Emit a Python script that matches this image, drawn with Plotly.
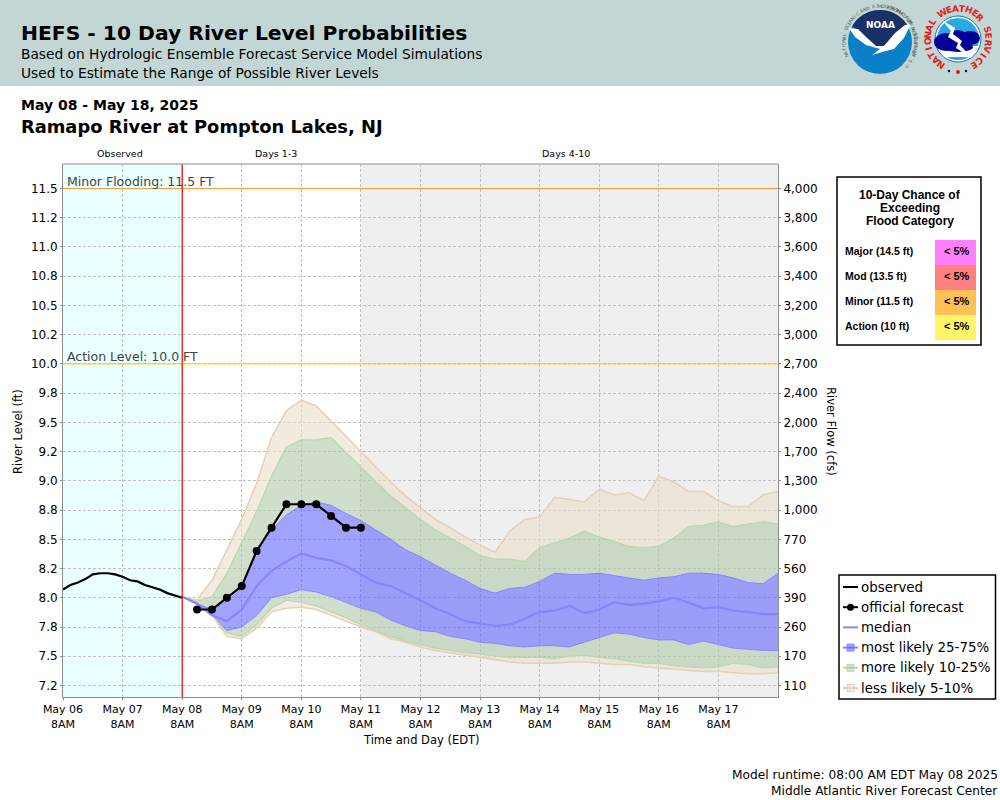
import math
import pandas as pd
import plotly.graph_objects as go

# River levels in ft
observed = [8.07, 8.11, 8.13, 8.16, 8.20, 8.21, 8.21, 8.20, 8.18, 8.15, 8.14, 8.11, 8.09, 8.07, 8.04, 8.02, 8.00]
official = [7.9, 7.9, 8.0, 8.1, 8.4, 8.6, 8.8, 8.8, 8.8, 8.7, 8.6, 8.6]

p95 = [8.01, 7.98, 8.15, 8.41, 8.67, 8.98, 9.37, 9.60, 9.69, 9.64, 9.51, 9.38, 9.25, 9.12, 8.99, 8.87, 8.77, 8.67, 8.60, 8.52,
       8.45, 8.39, 8.57, 8.67, 8.69, 8.86, 8.84, 8.82, 8.93, 8.88, 8.90, 8.83, 9.04, 8.99, 8.91, 8.91, 8.83, 8.78, 8.78, 8.88, 8.91]
p90 = [8.01, 7.97, 8.01, 8.21, 8.47, 8.74, 9.04, 9.29, 9.35, 9.35, 9.37, 9.24, 9.12, 8.99, 8.87, 8.77, 8.67, 8.58, 8.51, 8.44,
       8.36, 8.33, 8.33, 8.31, 8.43, 8.47, 8.51, 8.57, 8.52, 8.48, 8.44, 8.43, 8.44, 8.51, 8.61, 8.62, 8.65, 8.61, 8.63, 8.65, 8.63]
p75 = [8.01, 7.95, 7.90, 7.97, 8.08, 8.41, 8.58, 8.71, 8.79, 8.82, 8.79, 8.72, 8.66, 8.58, 8.50, 8.41, 8.35, 8.28, 8.21, 8.15,
       8.08, 8.04, 8.08, 8.09, 8.14, 8.21, 8.20, 8.20, 8.21, 8.19, 8.17, 8.15, 8.17, 8.18, 8.21, 8.21, 8.20, 8.17, 8.13, 8.12, 8.21]
median = [8.01, 7.95, 7.85, 7.80, 7.90, 8.10, 8.23, 8.31, 8.38, 8.34, 8.32, 8.27, 8.20, 8.13, 8.10, 8.04, 7.98, 7.91, 7.86, 7.80,
          7.78, 7.76, 7.77, 7.82, 7.88, 7.89, 7.93, 7.87, 7.90, 7.96, 7.94, 7.95, 7.97, 8.00, 7.96, 7.91, 7.92, 7.89, 7.88, 7.86, 7.86]
p25 = [8.01, 7.95, 7.85, 7.72, 7.75, 7.85, 8.00, 8.03, 8.07, 8.05, 8.01, 7.96, 7.91, 7.88, 7.81, 7.76, 7.72, 7.71, 7.67, 7.65,
       7.62, 7.61, 7.59, 7.58, 7.59, 7.59, 7.58, 7.62, 7.66, 7.70, 7.69, 7.66, 7.64, 7.64, 7.60, 7.63, 7.60, 7.57, 7.56, 7.55, 7.55]
p10 = [8.01, 7.95, 7.85, 7.70, 7.67, 7.77, 7.91, 7.98, 7.96, 7.93, 7.88, 7.83, 7.77, 7.72, 7.67, 7.63, 7.60, 7.57, 7.55, 7.53,
       7.52, 7.50, 7.49, 7.49, 7.49, 7.48, 7.50, 7.51, 7.49, 7.48, 7.46, 7.44, 7.44, 7.42, 7.41, 7.40, 7.41, 7.44, 7.43, 7.40, 7.41]
p5 = [8.01, 7.95, 7.85, 7.67, 7.65, 7.74, 7.88, 7.91, 7.92, 7.90, 7.85, 7.80, 7.75, 7.71, 7.65, 7.62, 7.58, 7.55, 7.53, 7.51,
      7.49, 7.47, 7.45, 7.44, 7.44, 7.44, 7.45, 7.45, 7.44, 7.43, 7.43, 7.41, 7.40, 7.39, 7.38, 7.37, 7.37, 7.36, 7.35, 7.35, 7.36]

stage_ticks = [7.25, 7.5, 7.75, 8.0, 8.25, 8.5, 8.75, 9.0, 9.25, 9.5, 9.75, 10.0, 10.25, 10.5, 10.75, 11.0, 11.25, 11.5]
stage_labels = ["7.2", "7.5", "7.8", "8.0", "8.2", "8.5", "8.8", "9.0", "9.2", "9.5", "9.8", "10.0", "10.2", "10.5", "10.8", "11.0", "11.2", "11.5"]
flow_labels = ["110", "170", "260", "390", "560", "770", "1,000", "1,300", "1,700", "2,000", "2,400", "2,700",
               "3,000", "3,200", "3,400", "3,600", "3,800", "4,000"]
day_labels = ["May 06", "May 07", "May 08", "May 09", "May 10", "May 11", "May 12", "May 13", "May 14", "May 15", "May 16", "May 17"]

flood_names = ["Major (14.5 ft)", "Mod (13.5 ft)", "Minor (11.5 ft)", "Action (10 ft)"]
flood_chance = ["< 5%", "< 5%", "< 5%", "< 5%"]
flood_colors = ["#ff80ff", "#ff8080", "#ffc055", "#fff566"]

legend_names = ["observed", "official forecast", "median", "most likely 25-75%", "more likely 10-25%", "less likely 5-10%"]

obs_times = pd.date_range("2025-05-06 08:00", periods=len(observed), freq="3h")
fc_times = pd.date_range("2025-05-08 08:00", periods=len(median), freq="6h")
official_times = fc_times[1:len(official) + 1]
day_ticks = pd.date_range("2025-05-06 08:00", periods=len(day_labels), freq="D")

BLUE = "#8585ff"
GREEN = "#b9d6ad"
TAN = "#e6cfb6"
BLUE_FILL = "rgba(100,100,255,0.6)"
GREEN_FILL = "rgba(178,204,172,0.62)"
TAN_FILL = "rgba(233,222,203,0.6)"
TEXT = "DejaVu Sans"
ARIAL = "Liberation Sans"

# plot area in page pixels
LEFT, RIGHT, TOP, BOTTOM = 63, 778, 164, 697
Y_LOW = 7.25 - (BOTTOM - 685.5) / 116.9
Y_HIGH = 11.5 + (188.5 - TOP) / 116.9


def px(x):
    return (x - LEFT) / (RIGHT - LEFT)


def py(y):
    return (BOTTOM - y) / (BOTTOM - TOP)


shapes = []
notes = []


def note(x, y, text, size, anchor="left", color="black", family=TEXT, angle=0):
    notes.append(dict(x=px(x), y=py(y), xref="paper", yref="paper", text=text, showarrow=False,
                      xanchor=anchor, yanchor="middle", textangle=angle, borderpad=0,
                      font=dict(size=size, color=color, family=family)))


def box(x0, y0, x1, y1, fill=None, line=None, width=1):
    shapes.append(dict(type="rect", xref="paper", yref="paper", x0=px(x0), x1=px(x1), y0=py(y0), y1=py(y1),
                       fillcolor=fill, line=dict(color=line, width=width if line else 0)))


def disk(cx, cy, rx, ry, fill, line=None):
    shapes.append(dict(type="circle", xref="paper", yref="paper", x0=px(cx - rx), x1=px(cx + rx),
                       y0=py(cy + ry), y1=py(cy - ry), fillcolor=fill, line=dict(color=line, width=1 if line else 0)))


def poly(points, fill):
    d = "M " + " L ".join(f"{px(x):.5f},{py(y):.5f}" for x, y in points) + " Z"
    shapes.append(dict(type="path", xref="paper", yref="paper", path=d, fillcolor=fill, line=dict(width=0)))


def ring_text(cx, cy, r, text, start, step, size, color, flip=False, bold=False):
    for i, ch in enumerate(text):
        if ch == " ":
            continue
        a = start + i * step
        x = cx + r * math.sin(math.radians(a))
        y = cy - r * math.cos(math.radians(a))
        note(x, y, f"<b>{ch}</b>" if bold else ch, size, anchor="center", color=color, angle=a + (180 if flip else 0))


fig = go.Figure()

# bands, outermost first, each filled to the trace before it
bands = [(p95, TAN, 1.5, None), (p90, GREEN, 1.2, TAN_FILL), (p75, BLUE, 1, GREEN_FILL),
         (p25, BLUE, 1, BLUE_FILL), (p10, GREEN, 1.2, GREEN_FILL), (p5, TAN, 1.5, TAN_FILL)]
for values, color, width, fill in bands:
    fig.add_trace(go.Scatter(x=fc_times, y=values, mode="lines", line=dict(color=color, width=width),
                             fill="tonexty" if fill else None, fillcolor=fill, showlegend=False, hoverinfo="skip"))

fig.add_trace(go.Scatter(x=fc_times, y=median, mode="lines", name="median", line=dict(color=BLUE, width=2.2), showlegend=False))
fig.add_trace(go.Scatter(x=obs_times, y=observed, mode="lines", name="observed", line=dict(color="black", width=2.2), showlegend=False))
fig.add_trace(go.Scatter(x=official_times, y=official, mode="lines+markers", name="official forecast",
                         line=dict(color="black", width=2.2), marker=dict(color="black", size=8), showlegend=False))
# keeps the flow axis on the right alive
fig.add_trace(go.Scatter(x=day_ticks[:1], y=stage_ticks[:1], yaxis="y2", mode="markers", opacity=0, showlegend=False, hoverinfo="skip"))

# backgrounds behind the grid
shapes.append(dict(type="rect", layer="below", xref="x", yref="paper", x0="2025-05-06 08:00", x1="2025-05-08 08:00", y0=0, y1=1,
                   fillcolor="#eaffff", line=dict(width=0)))
shapes.append(dict(type="rect", layer="below", xref="x", yref="paper", x0="2025-05-11 08:00", x1="2025-05-18 08:00", y0=0, y1=1,
                   fillcolor="#efefef", line=dict(width=0)))
shapes.append(dict(type="line", xref="paper", yref="y", x0=0, x1=1, y0=11.5, y1=11.5, line=dict(color="#ff9933", width=1)))
shapes.append(dict(type="line", xref="paper", yref="y", x0=0, x1=1, y0=10.0, y1=10.0, line=dict(color="#ffcc00", width=1)))
shapes.append(dict(type="line", xref="x", yref="paper", x0="2025-05-08 08:00", x1="2025-05-08 08:00", y0=0, y1=1,
                   line=dict(color="#ff0000", width=1.2)))
shapes.append(dict(type="line", xref="paper", yref="paper", x0=0, x1=1, y0=1, y1=1, line=dict(color="#b0b0b0", width=1.5)))

# header band
box(0, 0, 1000, 86, fill="#c2d7d5")
note(20, 33, "<b>HEFS - 10 Day River Level Probabilities</b>", 20.3)
note(20, 54, "Based on Hydrologic Ensemble Forecast Service Model Simulations", 13.75)
note(20, 73, "Used to Estimate the Range of Possible River Levels", 13.75)
note(20, 105, "<b>May 08 - May 18, 2025</b>", 14)
note(20, 126, "<b>Ramapo River at Pompton Lakes, NJ</b>", 17.85)

# NOAA logo
disk(880, 42, 32, 32, "#0a80c8")
poly([(880 + 32 * math.sin(math.radians(a)), 42 - 32 * math.cos(math.radians(a))) for a in range(-60, 61, 6)] + [(880, 49)], "#1c3068")
poly([(849, 28), (858, 29), (866, 37), (876, 46), (884, 46), (895, 33), (905, 25), (911, 24), (904, 38), (894, 49),
      (886, 51), (872, 55), (880, 49), (866, 45), (855, 37)], "white")
note(880, 25, "<b>NOAA</b>", 9, anchor="center", color="white")
ring_text(880, 42, 36, "NATIONAL OCEANIC AND ATMOSPHERIC ADMINISTRATION", -112, 4.85, 4.5, "#555555")
ring_text(880, 42, 36, "U.S. DEPARTMENT OF COMMERCE", 132, -4.6, 4.5, "#555555", flip=True)

# NWS logo
disk(958, 39, 23, 23, "white", line="#1a6fb0")
disk(958, 39, 21, 21, "#27a9e1")
poly([(938, 46), (978, 46), (972, 57), (944, 57)], "white")
disk(946, 42, 12, 9, "#000099")
disk(958, 39, 10, 9, "#000099")
disk(970, 38, 10, 7, "#000099")
disk(958, 47, 15, 5, "#000099")
poly([(942, 20), (955, 28), (953, 34), (962, 41), (960, 45), (972, 58), (956, 48), (958, 43), (948, 37), (951, 31)], "white")
disk(949, 71, 1.2, 1.2, "#000099")
disk(958, 72, 2, 2, "#e02020")
disk(966, 71, 1.2, 1.2, "#000099")
ring_text(958, 39, 30.5, "NATIONAL WEATHER SERVICE", -146, 12.8, 9, "#e02020", bold=True)

# section headers and stage labels
note(120, 153, "Observed", 9.5, anchor="center")
note(276, 153, "Days 1-3", 9.5, anchor="center")
note(566, 153, "Days 4-10", 9.5, anchor="center")
note(66, 181, "Minor Flooding: 11.5 FT", 12.5, color="#444444")
note(66, 356, "Action Level: 10.0 FT", 12.5, color="#444444")

# axis titles
note(18, 431, "River Level (ft)", 11.5, anchor="center", angle=-90)
note(831, 431, "River Flow (cfs)", 11.5, anchor="center", angle=90)
note(421, 740, "Time and Day (EDT)", 11.5, anchor="center")

# flood category table
box(837, 177, 981, 345, fill="white", line="black", width=1.5)
for i, line in enumerate(["10-Day Chance of", "Exceeding", "Flood Category"]):
    note(910, 195 + 13 * i, f"<b>{line}</b>", 12, anchor="center", family=ARIAL)
for i, name in enumerate(flood_names):
    top = 240 + 25 * i
    box(935, top, 976, top + 25.3, fill=flood_colors[i])
    note(844, top + 10.7, f"<b>{name}</b>", 10.5, family=ARIAL)
    note(957, top + 10.7, f"<b>{flood_chance[i]}</b>", 11, anchor="center", family=ARIAL)

# legend
box(839, 575, 995.5, 699, fill="white", line="black", width=1.5)
legend_lines = ["black", "black", BLUE, BLUE, GREEN, TAN]
legend_swatches = [None, None, None, BLUE_FILL, GREEN_FILL, TAN_FILL]
for i, name in enumerate(legend_names):
    y = 587 + 20.2 * i
    shapes.append(dict(type="line", xref="paper", yref="paper", x0=px(843), x1=px(858), y0=py(y), y1=py(y),
                       line=dict(color=legend_lines[i], width=2)))
    if i == 1:
        disk(850.5, y, 3.5, 3.5, "black")
    if legend_swatches[i]:
        box(847, y - 3.5, 854, y + 3.5, fill=legend_swatches[i], line=legend_lines[i], width=1)
    note(860, y, name, 13.4)

# footer
note(999, 775, "Model runtime: 08:00 AM EDT May 08 2025", 12.2, anchor="right")
note(999, 791, "Middle Atlantic River Forecast Center", 12.2, anchor="right")

grid = dict(showgrid=True, gridcolor="#c0c0c0", griddash="3px,2px", gridwidth=1)
axis_line = dict(showline=True, linecolor="#8c8c8c", linewidth=1, ticks="outside", ticklen=2, tickcolor="#8c8c8c", tickwidth=1)

fig.update_layout(
    width=1000,
    height=800,
    autosize=False,
    margin=dict(l=LEFT, r=1000 - RIGHT, t=TOP, b=800 - BOTTOM, pad=0),
    paper_bgcolor="white",
    plot_bgcolor="white",
    showlegend=False,
    font=dict(family=TEXT, color="black", size=12),
    shapes=shapes,
    annotations=notes,
    xaxis=dict(type="date", range=["2025-05-06 08:00", "2025-05-18 08:00"], tickmode="array", tickvals=day_ticks,
               ticktext=[f"{d}<br>8AM" for d in day_labels], tickfont=dict(size=11), zeroline=False, **grid, **axis_line),
    yaxis=dict(range=[Y_LOW, Y_HIGH], tickmode="array", tickvals=stage_ticks, ticktext=stage_labels,
               tickfont=dict(size=12), zeroline=False, **grid, **axis_line),
    yaxis2=dict(range=[Y_LOW, Y_HIGH], overlaying="y", side="right", tickmode="array", tickvals=stage_ticks, ticktext=flow_labels,
                tickfont=dict(size=12), showgrid=False, zeroline=False, **axis_line),
)

# the page's default body margin would push the figure off its 1000x800 frame
fig.write_html("out.html", config={"displayModeBar": False},
               post_script="document.body.style.margin='0';document.body.style.overflow='hidden';")
